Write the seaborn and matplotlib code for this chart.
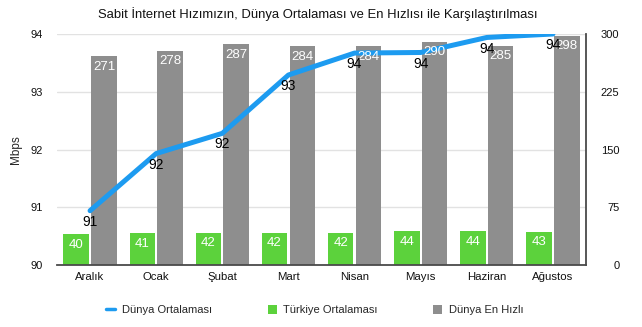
import numpy as np
import pandas as pd
import matplotlib
matplotlib.use("Agg")
import matplotlib.pyplot as plt
from matplotlib.lines import Line2D
from matplotlib.patches import Patch
import seaborn as sns

# Monthly fixed broadband speeds (Mbps)
months = ["Aralık", "Ocak", "Şubat", "Mart", "Nisan", "Mayıs", "Haziran", "Ağustos"]
dunya_ortalamasi = [90.94, 91.93, 92.28, 93.29, 93.67, 93.68, 93.94, 94.0]
turkiye_ortalamasi = [40, 41, 42, 42, 42, 44, 44, 43]
dunya_en_hizli = [271, 278, 287, 284, 284, 290, 285, 298]

left_ticks = [90, 91, 92, 93, 94]
right_ticks = [0, 75, 150, 225, 300]

BLUE = "#1D9BF0"
GREEN = "#5CD23C"
GRAY = "#8E8E8E"

sns.set_style("white")
plt.rcParams["font.family"] = ["Liberation Sans", "DejaVu Sans"]

df = pd.DataFrame({
    "Ay": months * 2,
    "Seri": ["Türkiye Ortalaması"] * len(months) + ["Dünya En Hızlı"] * len(months),
    "Mbps": turkiye_ortalamasi + dunya_en_hizli,
})

W, H = 642, 327
fig = plt.figure(figsize=(W / 100, H / 100), dpi=100)
ax_bars = fig.add_axes([57 / W, 1 - 265 / H, (586 - 57) / W, (265 - 34) / H])
ax_line = ax_bars.twinx()

sns.barplot(data=df, x="Ay", y="Mbps", hue="Seri", palette=[GREEN, GRAY],
            width=0.84, gap=0.08, saturation=1, linewidth=0,
            legend=False, ax=ax_bars)
ax_bars.set_xlim(-0.5, len(months) - 0.5)
ax_bars.set_ylim(0, 300)
ax_bars.set_yticks(right_ticks)
ax_bars.set_xlabel("")
ax_bars.set_ylabel("")
ax_bars.grid(axis="y", color="#E2E2E2", lw=1)
ax_bars.set_axisbelow(True)
for s in ("top", "left"):
    ax_bars.spines[s].set_visible(False)
for s in ("bottom", "right"):
    ax_bars.spines[s].set_color("#4A4A4A")
    ax_bars.spines[s].set_linewidth(1.3)
ax_bars.yaxis.tick_right()
ax_bars.tick_params(axis="y", which="both", left=False, labelleft=False,
                    right=True, labelright=True, length=0, pad=24,
                    labelsize=8, colors="#111111")
for lab in ax_bars.get_yticklabels():
    lab.set_ha("right")
ax_bars.tick_params(axis="x", length=0, pad=5, labelsize=8.2, colors="#111111")

# World average line on its own scale (left axis)
sns.lineplot(x=np.arange(len(months)), y=dunya_ortalamasi, color=BLUE, lw=3.6,
             ax=ax_line, legend=False)
ax_line.set_ylim(90, 94)
ax_line.set_yticks(left_ticks)
ax_line.yaxis.tick_left()
ax_line.tick_params(axis="y", which="both", left=True, labelleft=True,
                    right=False, labelright=False, length=0, pad=10,
                    labelsize=8, colors="#111111")
ax_line.yaxis.set_label_position("left")
ax_line.set_ylabel("Mbps", fontsize=8.5, labelpad=6)
for s in ax_line.spines.values():
    s.set_visible(False)

# Value labels inside the bars (drawn above the line)
for container in ax_bars.containers:
    for bar in container:
        v = bar.get_height()
        ax_line.annotate(f"{v:.0f}", xy=(bar.get_x() + bar.get_width() / 2, v),
                         xycoords=ax_bars.transData, xytext=(0, -7.6),
                         textcoords="offset points", ha="center", va="center",
                         color="white", fontsize=9.5)

# Value labels under the line points
for i, v in enumerate(dunya_ortalamasi):
    ax_line.annotate(f"{v:.0f}", xy=(i, v), xytext=(0, -8),
                     textcoords="offset points", ha="center", va="center",
                     color="black", fontsize=10)

fig.text(318 / W, 1 - 14 / H,
         "Sabit İnternet Hızımızın, Dünya Ortalaması ve En Hızlısı ile Karşılaştırılması",
         ha="center", va="center", fontsize=9.4, color="#111111")

handles = [
    Line2D([], [], color=BLUE, lw=2.5),
    Patch(facecolor=GREEN, edgecolor="none"),
    Patch(facecolor=GRAY, edgecolor="none"),
]
labels = ["Dünya Ortalaması", "Türkiye Ortalaması", "Dünya En Hızlı"]
fig.legend(handles, labels, loc="center", bbox_to_anchor=(315 / W, 1 - 310 / H),
           ncol=3, frameon=False, fontsize=8, handlelength=0.8, handleheight=0.9,
           columnspacing=5.0, handletextpad=0.6)

fig.savefig("out.png", dpi=100)
